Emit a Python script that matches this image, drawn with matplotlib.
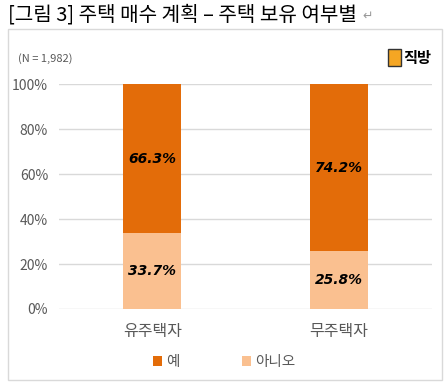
import numpy as np
import matplotlib.pyplot as plt
from matplotlib.patches import Rectangle

plt.rcParams['font.family'] = ['Noto Sans CJK KR', 'DejaVu Sans']

# data
categories = ['유주택자', '무주택자']
yes_vals = [66.3, 74.2]
no_vals = [33.7, 25.8]
series_names = ['예', '아니오']

dark = '#E36C09'
light = '#FAC090'
grey = '#595959'

fig = plt.figure(figsize=(4.48, 3.86), dpi=100)

# title and outer box
fig.text(0.018, 0.962, '[그림 3] 주택 매수 계획 – 주택 보유 여부별', fontsize=14.5,
         va='center', ha='left', color='black')
fig.text(0.81, 0.958, '↵', fontsize=9, va='center', ha='left', color='#999999',
         family=['DejaVu Sans'])
fig.patches.append(Rectangle((0.018, 0.015), 0.968, 0.91, transform=fig.transFigure,
                             fill=False, edgecolor='#D9D9D9', linewidth=1))

fig.text(0.04, 0.848, '(N = 1,982)', fontsize=8, color=grey, va='center')
# logo
fig.patches.append(Rectangle((0.865, 0.828), 0.03, 0.045, transform=fig.transFigure,
                             facecolor='#F5A623', edgecolor='#333333', linewidth=1))
fig.text(0.9, 0.85, '직방', fontsize=11, fontweight='bold', va='center', ha='left')

ax = fig.add_axes([0.132, 0.1995, 0.832, 0.5825])
x = np.arange(len(categories))
w = 0.31
ax.bar(x, no_vals, w, color=light, label=series_names[1], zorder=3)
ax.bar(x, yes_vals, w, bottom=no_vals, color=dark, label=series_names[0], zorder=3)

for i in range(len(categories)):
    ax.text(x[i], no_vals[i] / 2, f'{no_vals[i]}%', ha='center', va='center',
            fontsize=10, fontweight='bold', style='italic', family=['DejaVu Sans'])
    ax.text(x[i], no_vals[i] + yes_vals[i] / 2, f'{yes_vals[i]}%', ha='center',
            va='center', fontsize=10, fontweight='bold', style='italic',
            family=['DejaVu Sans'])

ax.set_xlim(-0.5, 1.5)
ax.set_ylim(0, 100)
ax.set_yticks(np.arange(0, 101, 20))
ax.set_yticklabels([f'{v}%' for v in range(0, 101, 20)])
ax.set_xticks(x)
ax.set_xticklabels(categories)
ax.tick_params(axis='both', length=0, labelsize=10, colors=grey)
ax.tick_params(axis='x', pad=10, labelsize=11.5)
ax.tick_params(axis='y', pad=8)
ax.grid(axis='y', color='#D9D9D9', linewidth=1, zorder=0)
for s in ax.spines.values():
    s.set_visible(False)

handles, labels = ax.get_legend_handles_labels()
leg = fig.legend(handles[::-1], labels[::-1], loc='center', bbox_to_anchor=(0.5, 0.062),
                 ncol=2, frameon=False, fontsize=10.5, handlelength=0.6, handleheight=0.6,
                 columnspacing=4.3, handletextpad=0.3)
for t in leg.get_texts():
    t.set_color(grey)

fig.savefig('out.png', dpi=100)
